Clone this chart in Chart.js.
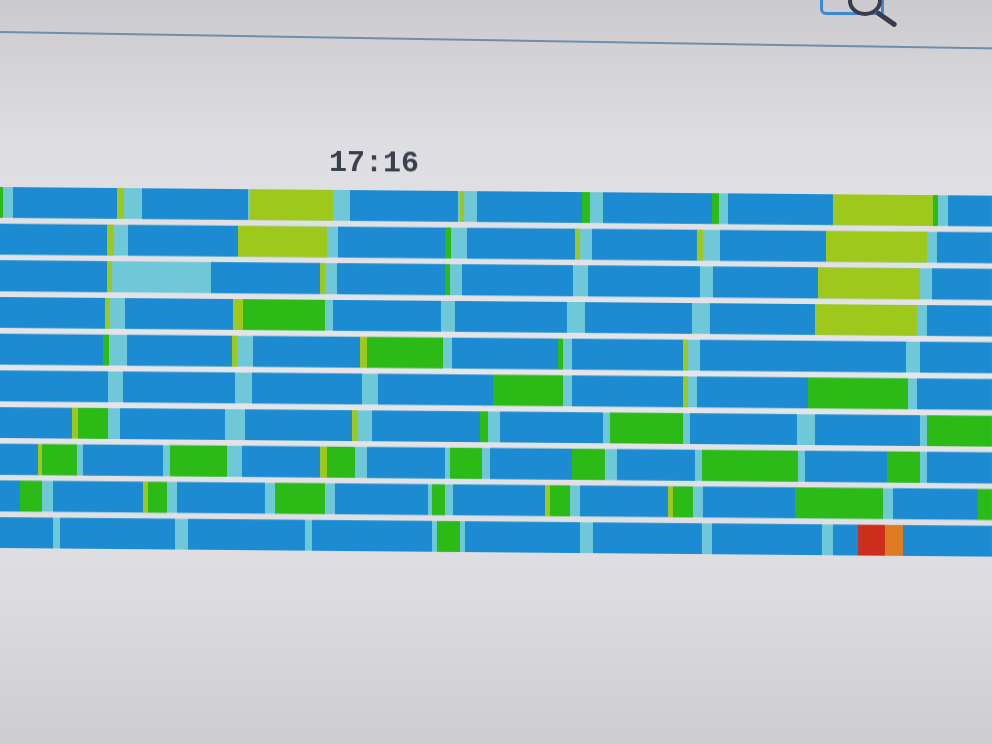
<!DOCTYPE html>
<html><head><meta charset="utf-8">
<script src="https://cdn.jsdelivr.net/npm/chart.js@4.4.0/dist/chart.umd.min.js"></script>
<style>
html,body{margin:0;padding:0;width:992px;height:744px;overflow:hidden;}
body{background:linear-gradient(#cbcbcf 0px,#d3d3d7 60px,#dedee2 140px,#e6e6ea 380px,#dcdce0 600px,#cdcdd1 744px);}
#topline{position:absolute;left:0;top:31px;width:1000px;height:2px;background:#6f8eaa;transform:rotate(0.95deg);transform-origin:0 0;}
#iconbox{position:absolute;left:820px;top:-6px;width:58px;height:18px;border:3px solid #3d8ad0;border-top:none;border-radius:0 0 4px 6px;}
#iconring{position:absolute;left:848px;top:-14px;width:26px;height:22px;border:4px solid #3a3c4c;border-radius:50%;}
#iconhandle{position:absolute;left:878px;top:10px;width:24px;height:5px;background:#3a3c4c;transform:rotate(35deg);transform-origin:0 0;border-radius:3px;}
#wrap{position:absolute;left:0;top:0;width:992px;height:744px;transform:skewY(0.5deg);transform-origin:0 0;}
</style></head>
<body>
<div id="topline"></div>
<div id="iconbox"></div><div id="iconring"></div><div id="iconhandle"></div>
<div id="wrap"><canvas id="c"></canvas></div>
<script>
// ---- data ----
const rowLabels = ['1','2','3','4','5','6','7','8','9','10'];
const timeTickValues = [374];
const timeTickLabels = ['17:16'];
const rowSpan = [0, 992];

const blueSegments = [
  [[13,117],[142,248],[350,458],[477,582],[603,712],[728,833],[948,992]],
  [[0,107],[128,238],[338,445],[467,575],[592,697],[720,826],[937,992]],
  [[0,107],[211,320],[337,445],[462,573],[588,700],[713,818],[932,992]],
  [[0,105],[125,233],[333,441],[455,567],[585,692],[710,815],[927,992]],
  [[0,103],[127,232],[253,360],[452,558],[572,683],[700,906],[920,992]],
  [[0,108],[123,235],[252,362],[378,493],[572,683],[697,808],[917,992]],
  [[0,72],[120,225],[245,352],[372,480],[500,603],[690,797],[815,920]],
  [[0,38],[83,163],[242,320],[367,445],[490,572],[617,695],[805,887],[927,992]],
  [[0,20],[53,143],[177,265],[335,428],[453,545],[580,668],[703,795],[893,978]],
  [[0,53],[60,175],[188,305],[312,432],[465,580],[593,702],[712,822],[833,858],[903,992]]
];
const limeSegments = [
  [[117,124],[250,333],[460,464],[833,933]],
  [[107,114],[238,327],[575,580],[697,703],[826,927]],
  [[107,112],[320,325],[818,920]],
  [[105,110],[233,243],[815,917]],
  [[232,237],[360,367],[683,688]],
  [[683,688]],
  [[72,78],[352,358]],
  [[38,42],[320,327]],
  [[143,148],[545,550],[668,673]],
  []
];
const greenSegments = [
  [[0,3],[582,590],[712,719],[933,938]],
  [[445,451]],
  [[445,450]],
  [[243,325]],
  [[103,109],[367,443],[558,563]],
  [[493,563],[808,908]],
  [[78,108],[480,488],[610,683],[927,992]],
  [[42,77],[170,227],[327,355],[450,482],[572,605],[702,798],[887,920]],
  [[20,42],[148,167],[275,325],[432,445],[550,570],[673,693],[795,883],[978,992]],
  [[437,460]]
];
const redSegments = [[],[],[],[],[],[],[],[],[],[[858,885]]];
const orangeSegments = [[],[],[],[],[],[],[],[],[],[[885,903]]];

// ---- build ----
function toPoints(segs){
  const out=[];
  segs.forEach((row,i)=>row.forEach(s=>out.push({x:[s[0],s[1]],y:rowLabels[i]})));
  return out;
}
const bgPoints = rowLabels.map(l=>({x:rowSpan.slice(),y:l}));
const common = {borderWidth:0,borderSkipped:false,grouped:false,barPercentage:0.84,categoryPercentage:1};

new Chart(document.getElementById('c'),{
  type:'bar',
  data:{datasets:[
    Object.assign({label:'blue',data:toPoints(blueSegments),backgroundColor:'#1d8bd2',order:1},common),
    Object.assign({label:'lime',data:toPoints(limeSegments),backgroundColor:'#9fc81c',order:1},common),
    Object.assign({label:'green',data:toPoints(greenSegments),backgroundColor:'#2bba16',order:1},common),
    Object.assign({label:'red',data:toPoints(redSegments),backgroundColor:'#cc2e1c',order:1},common),
    Object.assign({label:'orange',data:toPoints(orangeSegments),backgroundColor:'#df7c22',order:1},common),
    Object.assign({label:'idle',data:bgPoints,backgroundColor:'#6ec8d8',order:5},common)
  ]},
  options:{
    indexAxis:'y',
    responsive:true,
    maintainAspectRatio:false,
    devicePixelRatio:1,
    animation:false,
    layout:{padding:{top:0,left:0,right:0,bottom:193}},
    plugins:{legend:{display:false},tooltip:{enabled:false}},
    scales:{
      x:{type:'linear',position:'top',min:0,max:992,
        grid:{display:false,drawTicks:false},border:{display:false},
        afterBuildTicks:s=>{s.ticks=timeTickValues.map(v=>({value:v}));},
        afterFit:s=>{s.height=184;},
        ticks:{autoSkip:false,maxRotation:0,padding:6,color:'#3a3f4c',
          font:{family:'Liberation Mono',size:30,weight:'bold'},
          callback:(v,i)=>timeTickLabels[i]}
      },
      y:{type:'category',labels:rowLabels,display:false}
    }
  }
});
</script>
</body></html>
